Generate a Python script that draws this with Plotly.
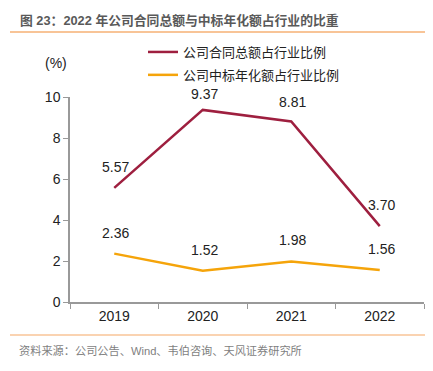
import plotly.graph_objects as go

years = ["2019", "2020", "2021", "2022"]
contract_share = [5.57, 9.37, 8.81, 3.70]
bid_share = [2.36, 1.52, 1.98, 1.56]
name_contract = "公司合同总额占行业比例"
name_bid = "公司中标年化额占行业比例"
title_text = "图 23：2022 年公司合同总额与中标年化额占行业的比重"
source_text = "资料来源：公司公告、Wind、韦伯咨询、天风证券研究所"

OFF = 8  # page body margin
W, H = 433 - OFF, 371 - OFF
L, R, T, B = 70 - OFF, 9, 97 - OFF, 69
pw, ph = W - L - R, H - T - B

def px_x(px):
    return (px - OFF - L) / pw

def px_y(py):
    return (H - B - (py - OFF)) / ph

RED = "#9E1F3F"
ORANGE = "#F5A40A"
FONT = "Liberation Sans, Noto Sans CJK SC, sans-serif"

fig = go.Figure()
fig.add_trace(go.Scatter(x=years, y=contract_share, mode="lines", name=name_contract,
                         legendgroup="a", line=dict(color=RED, width=2.5)))
fig.add_trace(go.Scatter(x=years, y=bid_share, mode="lines", name=name_bid,
                         legendgroup="b", line=dict(color=ORANGE, width=2.5)))

# label lift (pixels); the peak label sits lower, under the legend
lift = {(0, 1): 16, (0, 2): 19}

annotations = []
for s, ys in enumerate((contract_share, bid_share)):
    for i, yv in enumerate(ys):
        annotations.append(dict(xref="x", yref="y", x=i, y=yv, text=f"{yv:.2f}",
                                showarrow=False, yshift=lift.get((s, i), 21), xshift=1.5,
                                xanchor="center", yanchor="middle",
                                font=dict(size=14, color="#222222", family=FONT)))

annotations.append(dict(xref="paper", yref="paper", x=px_x(56), y=px_y(63), text="(%)",
                        showarrow=False, xanchor="center", yanchor="middle",
                        font=dict(size=14, color="#222222", family=FONT)))
annotations.append(dict(xref="paper", yref="paper", x=px_x(17), y=px_y(350), xanchor="left",
                        yanchor="middle", text=source_text, showarrow=False,
                        font=dict(size=11.2, color="#7f7f7f", family=FONT)))
annotations.append(dict(xref="paper", yref="paper", x=px_x(18), y=px_y(20), xanchor="left",
                        yanchor="middle", text="<b>" + title_text + "</b>", showarrow=False,
                        font=dict(size=12.8, color="#595959", family=FONT)))

shapes = [
    dict(type="line", xref="paper", yref="paper", x0=px_x(10), x1=px_x(425),
         y0=px_y(32), y1=px_y(32), line=dict(color="#F8C497", width=2)),
    dict(type="line", xref="paper", yref="paper", x0=px_x(10), x1=px_x(425),
         y0=px_y(335), y1=px_y(335), line=dict(color="#F8C497", width=1.5)),
]

fig.update_layout(
    width=W, height=H,
    margin=dict(l=L, r=R, t=T, b=B, autoexpand=False),
    paper_bgcolor="white", plot_bgcolor="white",
    font=dict(family=FONT, size=14, color="#222222"),
    showlegend=True,
    legend=dict(x=px_x(143), y=px_y(37),
                xanchor="left", yanchor="top", bgcolor="rgba(0,0,0,0)",
                font=dict(size=13, color="#222222", family=FONT),
                tracegroupgap=3, itemwidth=30),
    annotations=annotations,
    shapes=shapes,
    xaxis=dict(type="category", showgrid=False, showline=True, linecolor="#999999",
               linewidth=1.5, ticks="outside", tickson="boundaries", ticklen=5,
               tickcolor="#999999", tickfont=dict(size=14), range=[-0.5, 3.5]),
    yaxis=dict(range=[0, 10], dtick=2, showgrid=False, showline=True, linecolor="#999999",
               linewidth=1.5, ticks="outside", ticklen=5, tickcolor="#999999",
               tickfont=dict(size=14), zeroline=False),
)

fig.write_html("out.html")
